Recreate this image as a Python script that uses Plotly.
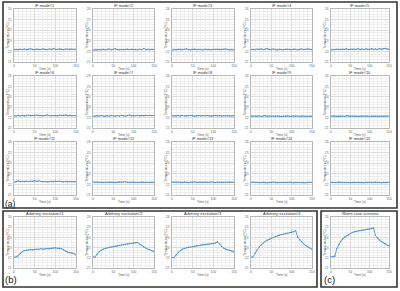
import plotly.graph_objects as go

TIME = [0, 5, 10, 15, 20, 25, 30, 35, 40, 45, 50, 55, 60, 65, 70, 75,
        80, 85, 90, 95, 100, 105, 110, 115, 120, 125, 130, 135, 140, 145, 150]

IF_TITLES = ["IF mode#%d" % i for i in range(1, 16)]
IF_DATA = [
    [22.15, 22.18, 22.14, 22.20, 22.17, 22.22, 22.16, 22.19, 22.24, 22.18, 22.15, 22.21, 22.19, 22.17, 22.23, 22.20, 22.16, 22.22, 22.18, 22.25, 22.20, 22.17, 22.23, 22.19, 22.16, 22.22, 22.20, 22.18, 22.21, 22.17, 22.19],
    [22.12, 22.15, 22.13, 22.17, 22.14, 22.19, 22.15, 22.18, 22.22, 22.16, 22.20, 22.24, 22.17, 22.15, 22.19, 22.16, 22.18, 22.21, 22.17, 22.19, 22.16, 22.18, 22.15, 22.20, 22.17, 22.27, 22.16, 22.18, 22.15, 22.19, 22.17],
    [22.13, 22.16, 22.14, 22.18, 22.20, 22.15, 22.19, 22.23, 22.16, 22.14, 22.18, 22.21, 22.15, 22.19, 22.17, 22.14, 22.20, 22.16, 22.18, 22.15, 22.19, 22.17, 22.21, 22.16, 22.18, 22.20, 22.23, 22.17, 22.15, 22.18, 22.14],
    [22.16, 22.19, 22.15, 22.21, 22.18, 22.23, 22.17, 22.20, 22.25, 22.19, 22.16, 22.22, 22.18, 22.14, 22.20, 22.17, 22.15, 22.19, 22.22, 22.18, 22.16, 22.21, 22.19, 22.15, 22.18, 22.22, 22.17, 22.20, 22.23, 22.18, 22.16],
    [22.14, 22.17, 22.15, 22.20, 22.18, 22.16, 22.21, 22.19, 22.23, 22.17, 22.20, 22.18, 22.22, 22.19, 22.24, 22.18, 22.21, 22.17, 22.23, 22.20, 22.18, 22.25, 22.19, 22.22, 22.18, 22.24, 22.20, 22.23, 22.28, 22.21, 22.19],
    [22.18, 22.15, 22.20, 22.17, 22.22, 22.16, 22.19, 22.23, 22.18, 22.21, 22.17, 22.24, 22.19, 22.22, 22.18, 22.20, 22.26, 22.19, 22.17, 22.22, 22.20, 22.18, 22.23, 22.19, 22.21, 22.25, 22.18, 22.20, 22.17, 22.19, 22.18],
    [22.12, 22.15, 22.18, 22.14, 22.19, 22.16, 22.13, 22.18, 22.15, 22.20, 22.17, 22.14, 22.19, 22.16, 22.21, 22.18, 22.15, 22.20, 22.24, 22.18, 22.16, 22.19, 22.22, 22.17, 22.20, 22.18, 22.23, 22.19, 22.21, 22.18, 22.20],
    [22.15, 22.18, 22.14, 22.19, 22.16, 22.21, 22.17, 22.15, 22.19, 22.22, 22.16, 22.14, 22.18, 22.20, 22.15, 22.19, 22.17, 22.21, 22.16, 22.14, 22.18, 22.20, 22.16, 22.19, 22.15, 22.18, 22.16, 22.20, 22.17, 22.15, 22.18],
    [22.14, 22.11, 22.15, 22.13, 22.17, 22.12, 22.15, 22.18, 22.13, 22.16, 22.12, 22.15, 22.13, 22.17, 22.14, 22.11, 22.15, 22.13, 22.16, 22.12, 22.14, 22.17, 22.13, 22.15, 22.12, 22.16, 22.14, 22.11, 22.15, 22.13, 22.14],
    [22.13, 22.16, 22.14, 22.12, 22.16, 22.13, 22.15, 22.12, 22.17, 22.14, 22.11, 22.15, 22.13, 22.16, 22.12, 22.14, 22.11, 22.15, 22.13, 22.16, 22.12, 22.14, 22.11, 22.15, 22.13, 22.12, 22.15, 22.13, 22.16, 22.12, 22.14],
    [22.20, 22.24, 22.32, 22.26, 22.29, 22.25, 22.30, 22.27, 22.31, 22.28, 22.33, 22.29, 22.34, 22.27, 22.25, 22.29, 22.26, 22.24, 22.28, 22.25, 22.29, 22.27, 22.31, 22.26, 22.24, 22.28, 22.25, 22.27, 22.24, 22.26, 22.25],
    [22.22, 22.20, 22.23, 22.19, 22.21, 22.18, 22.20, 22.17, 22.21, 22.19, 22.22, 22.18, 22.20, 22.23, 22.19, 22.22, 22.24, 22.20, 22.18, 22.21, 22.19, 22.17, 22.20, 22.18, 22.21, 22.19, 22.17, 22.20, 22.18, 22.21, 22.19],
    [22.20, 22.23, 22.19, 22.22, 22.18, 22.21, 22.24, 22.20, 22.17, 22.21, 22.19, 22.23, 22.20, 22.18, 22.22, 22.19, 22.21, 22.18, 22.20, 22.23, 22.19, 22.17, 22.21, 22.19, 22.22, 22.18, 22.20, 22.17, 22.21, 22.19, 22.20],
    [22.18, 22.21, 22.17, 22.20, 22.16, 22.19, 22.22, 22.18, 22.15, 22.19, 22.17, 22.21, 22.18, 22.16, 22.20, 22.17, 22.19, 22.16, 22.18, 22.21, 22.17, 22.15, 22.19, 22.17, 22.20, 22.16, 22.18, 22.15, 22.19, 22.17, 22.18],
    [22.19, 22.16, 22.20, 22.17, 22.21, 22.18, 22.15, 22.19, 22.17, 22.20, 22.16, 22.18, 22.21, 22.17, 22.19, 22.16, 22.18, 22.15, 22.19, 22.17, 22.20, 22.16, 22.18, 22.21, 22.17, 22.19, 22.16, 22.18, 22.15, 22.19, 22.17],
]

ARB_TITLES = ["Arbitrary excitation#1", "Arbitrary excitation#2",
              "Arbitrary excitation#3", "Arbitrary excitation#4"]
ARB_DATA = [
    [22.05, 22.08, 22.20, 22.45, 22.60, 22.70, 22.75, 22.78, 22.80, 22.77, 22.82, 22.85, 22.83, 22.90, 22.85, 22.88, 22.90, 22.87, 22.92, 22.95, 22.97, 22.93, 22.95, 22.90, 22.78, 22.65, 22.55, 22.50, 22.47, 22.40, 22.30],
    [22.10, 22.05, 22.35, 22.60, 22.75, 22.85, 22.92, 22.98, 23.02, 23.05, 23.10, 23.15, 23.18, 23.22, 23.27, 23.30, 23.33, 23.36, 23.40, 23.42, 23.45, 23.47, 23.50, 23.35, 23.20, 23.05, 22.95, 22.85, 22.78, 22.70, 22.62],
    [22.05, 22.00, 22.30, 22.55, 22.70, 22.85, 22.92, 22.98, 23.03, 23.05, 23.10, 23.12, 23.18, 23.20, 23.25, 23.27, 23.30, 23.33, 23.36, 23.38, 23.42, 23.44, 23.55, 23.35, 23.10, 22.95, 22.85, 22.78, 22.72, 22.65, 22.58],
    [22.05, 22.10, 22.45, 22.80, 23.05, 23.25, 23.45, 23.60, 23.72, 23.82, 23.92, 24.00, 24.08, 24.15, 24.22, 24.28, 24.33, 24.38, 24.42, 24.46, 24.50, 24.55, 24.65, 24.00, 23.75, 23.55, 23.35, 23.20, 23.05, 22.95, 22.85],
]

WC_TITLE = "Worst-case scenario"
WC_DATA = [22.10, 22.10, 22.15, 22.90, 23.30, 23.60, 23.85, 24.05, 24.15, 24.25, 24.40, 24.48, 24.55, 24.60, 24.64, 24.67, 24.70, 24.73, 24.76, 24.80, 24.83, 24.86, 24.92, 24.20, 23.95, 23.75, 23.60, 23.50, 23.40, 23.25, 23.15]

W, H = 400, 291
COL_X = [(14, 76), (93, 154), (172, 234), (251, 312), (331, 389)]
ROW_Y = [(9, 62), (76, 128), (142, 195)]
BOT_Y = (217, 268)
LINE_COLOR = "#3f8ccc"
FONT = "Liberation Sans"

fig = go.Figure()
panels = []
for i, (title, ys) in enumerate(zip(IF_TITLES, IF_DATA)):
    r, c = divmod(i, 5)
    panels.append((title, ys, COL_X[c], ROW_Y[r]))
for i, (title, ys) in enumerate(zip(ARB_TITLES, ARB_DATA)):
    panels.append((title, ys, COL_X[i], BOT_Y))
panels.append((WC_TITLE, WC_DATA, COL_X[4], BOT_Y))

tick_font = dict(size=3.3, color="#666", family=FONT)
annotations = []
for k, (title, ys, (x0, x1), (y0, y1)) in enumerate(panels):
    n = k + 1
    xa = "x" if n == 1 else "x%d" % n
    ya = "y" if n == 1 else "y%d" % n
    fig.add_trace(go.Scatter(x=TIME, y=ys, mode="lines+markers", xaxis=xa, yaxis=ya,
                             line=dict(color=LINE_COLOR, width=0.8),
                             marker=dict(size=1.3, color=LINE_COLOR),
                             showlegend=False, hoverinfo="skip"))
    common = dict(showline=True, mirror=True, linecolor="#b8b8b8", linewidth=0.6,
                  showgrid=True, gridcolor="#dcdcdc", gridwidth=0.5, zeroline=False,
                  ticks="", tickfont=tick_font, automargin=False)
    xkey = "xaxis" if n == 1 else "xaxis%d" % n
    ykey = "yaxis" if n == 1 else "yaxis%d" % n
    fig.layout[xkey] = dict(common, domain=[x0 / W, x1 / W], anchor=ya, range=[0, 150],
                            tickvals=[0, 50, 100, 150], ticklabelstandoff=0,
                            minor=dict(dtick=10, showgrid=True, gridcolor="#eeeeee", gridwidth=0.4))
    fig.layout[ykey] = dict(common, domain=[1 - y1 / H, 1 - y0 / H], anchor=xa, range=[21, 26],
                            tickvals=[21, 22, 23, 24, 25, 26], ticklabelstandoff=1,
                            minor=dict(dtick=0.25, showgrid=True, gridcolor="#eeeeee", gridwidth=0.4))
    # panel title
    annotations.append(dict(text=title, x=(x0 + x1) / 2 / W, y=1 - (y0 + 0.4) / H, borderpad=0,
                            xref="paper", yref="paper", xanchor="center", yanchor="bottom",
                            showarrow=False, font=dict(size=4, color="#333", family=FONT)))
    # x axis title
    annotations.append(dict(text="Time (s)", x=(x0 + x1) / 2 / W, y=1 - (y1 + 4.2) / H,
                            borderpad=0, xref="paper", yref="paper", xanchor="center",
                            yanchor="top", showarrow=False,
                            font=dict(size=3.2, color="#555", family=FONT)))
    # y axis title
    annotations.append(dict(text="Temperature (°C)", x=(x0 - 6.5) / W, y=1 - (y0 + y1) / 2 / H,
                            borderpad=0, xref="paper", yref="paper", xanchor="center",
                            yanchor="middle", textangle=-90, showarrow=False,
                            font=dict(size=3.5, color="#555", family=FONT)))

for label, lx, ly in [("(a)", 4, 204.5), ("(b)", 4, 279), ("(c)", 323, 279)]:
    annotations.append(dict(text=label, x=lx / W, y=1 - ly / H, xref="paper", yref="paper",
                            xanchor="left", yanchor="middle", showarrow=False, borderpad=0,
                            font=dict(size=8.5 if label == "(a)" else 9.5, color="#111", family=FONT)))

shapes = []
for (bx0, by0, bx1, by1) in [(3, 2, 397, 208), (3, 211, 317, 287), (321, 211, 397, 287)]:
    shapes.append(dict(type="rect", xref="paper", yref="paper",
                       x0=bx0 / W, x1=bx1 / W, y0=1 - by1 / H, y1=1 - by0 / H,
                       line=dict(color="#333", width=1.6), fillcolor="rgba(0,0,0,0)"))

fig.update_layout(width=W, height=H, margin=dict(l=0, r=0, t=0, b=0),
                  paper_bgcolor="white", plot_bgcolor="white",
                  annotations=annotations, shapes=shapes)
fig.write_html("out.html", config={"displayModeBar": False},
               post_script="document.body.style.margin='0';document.body.style.padding='0';")
